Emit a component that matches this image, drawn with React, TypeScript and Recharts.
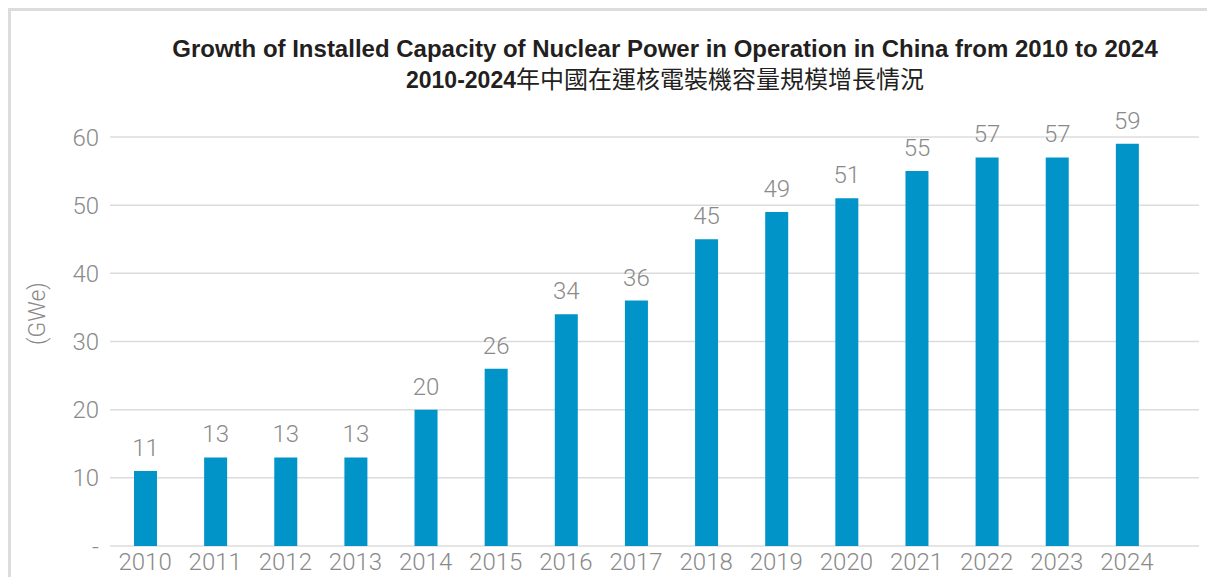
import React from 'react'
import { BarChart, Bar, XAxis, YAxis, CartesianGrid, LabelList, Label } from 'recharts'

const YEARS = ['2010', '2011', '2012', '2013', '2014', '2015', '2016', '2017', '2018', '2019', '2020', '2021', '2022', '2023', '2024']
const CAPACITY = [11, 13, 13, 13, 20, 26, 34, 36, 45, 49, 51, 55, 57, 57, 59]
const Y_TICKS = [0, 10, 20, 30, 40, 50, 60]

const TITLE_EN = 'Growth of Installed Capacity of Nuclear Power in Operation in China from 2010 to 2024'
const TITLE_ZH_YEARS = '2010-2024'
const TITLE_ZH = '年中國在運核電裝機容量規模增長情況'

const BLUE = '#0094c9'
const GRAY_TEXT = '#8a8a8a'
const GRID = '#dcdcdc'
const FONT = 'Roboto, "Liberation Sans", Arial, sans-serif'

const data = YEARS.map((year, i) => ({ year, value: CAPACITY[i] }))

export default function App() {
  return (
    <div
      style={{
        position: 'relative',
        width: 1207,
        height: 569,
        overflow: 'hidden',
        borderTop: `3px solid ${GRID}`,
        borderLeft: `3px solid ${GRID}`,
        boxSizing: 'border-box',
        background: '#fff',
      }}
    >
      {/* two line title, English bold, Chinese line with bold years */}
      <div
        style={{
          position: 'absolute',
          left: 654,
          top: 23,
          transform: 'translateX(-50%)',
          whiteSpace: 'nowrap',
          textAlign: 'center',
          color: '#231f20',
          fontFamily: '"Liberation Sans", Arial, sans-serif',
          fontWeight: 700,
        }}
      >
        <div style={{ fontSize: 24, lineHeight: '30px' }}>{TITLE_EN}</div>
        <div style={{ lineHeight: '28px' }}>
          <span style={{ fontSize: 23 }}>{TITLE_ZH_YEARS}</span>
          <span style={{ fontFamily: '"Noto Sans CJK TC", sans-serif', fontWeight: 400, fontSize: 24 }}>{TITLE_ZH}</span>
        </div>
      </div>

      <BarChart
        width={1204}
        height={600}
        data={data}
        margin={{ top: 126, right: 16, left: 0, bottom: 25 }}
        style={{ position: 'absolute', left: 0, top: 0 }}
      >
        <CartesianGrid vertical={false} stroke={GRID} strokeWidth={1.5} />
        <XAxis
          dataKey="year"
          axisLine={false}
          tickLine={false}
          tickSize={0}
          tickMargin={7}
          height={40}
          padding={{ left: 0, right: 37 }}
          interval={0}
          tick={{ fill: GRAY_TEXT, fontSize: 24, fontFamily: FONT, fontWeight: 300 }}
        />
        <YAxis
          width={99}
          domain={[0, 60]}
          ticks={Y_TICKS}
          interval={0}
          axisLine={false}
          tickLine={false}
          tickSize={0}
          tickMargin={11}
          tickFormatter={(v: number) => (v === 0 ? '-' : String(v))}
          tick={{ fill: GRAY_TEXT, fontSize: 24, fontFamily: FONT, fontWeight: 300 }}
        >
          <Label
            value="(GWe)"
            angle={-90}
            position="insideLeft"
            offset={26}
            dy={-28}
            style={{ fill: GRAY_TEXT, fontSize: 23, fontFamily: FONT, fontWeight: 300, textAnchor: 'middle' }}
          />
        </YAxis>
        <Bar dataKey="value" fill={BLUE} barSize={23} isAnimationActive={false}>
          <LabelList
            dataKey="value"
            position="top"
            offset={15}
            style={{ fill: GRAY_TEXT, fontSize: 24, fontFamily: FONT, fontWeight: 300 }}
          />
        </Bar>
      </BarChart>
    </div>
  )
}
